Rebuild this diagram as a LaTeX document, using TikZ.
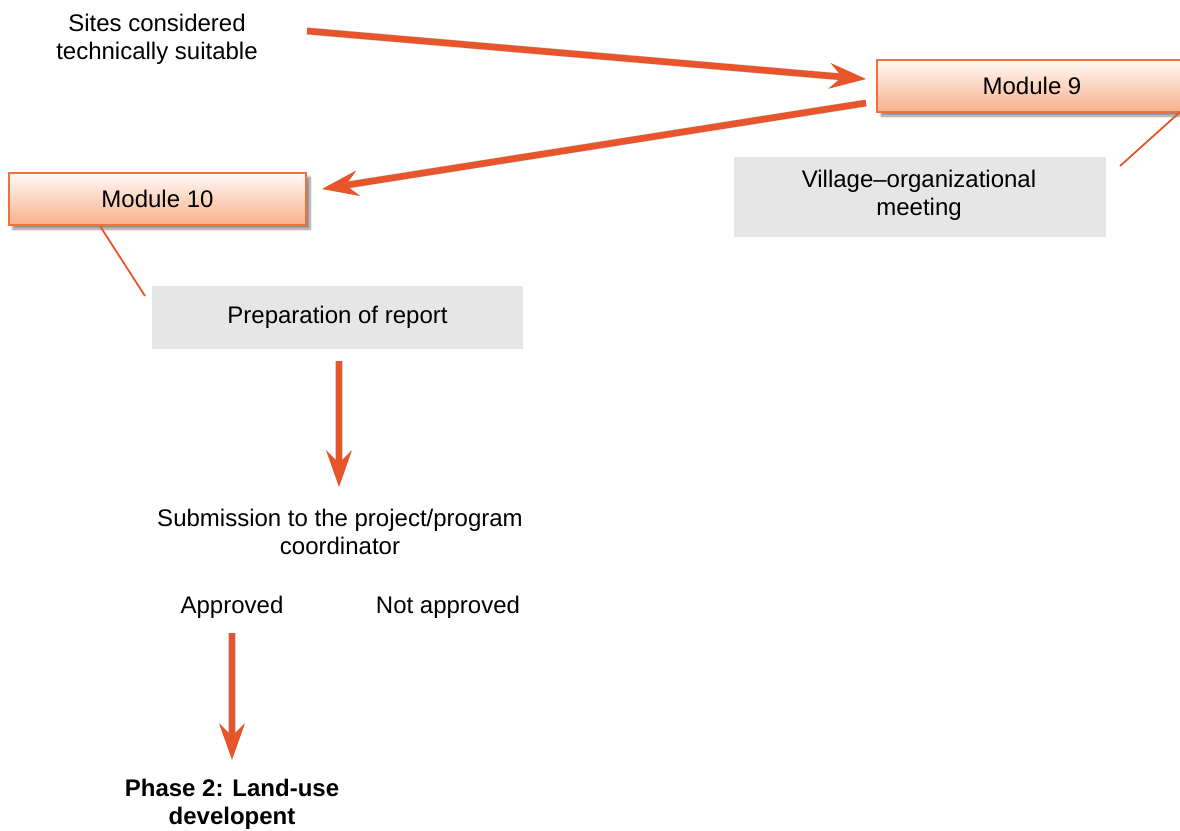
\documentclass[tikz,border=0pt]{standalone}
\usepackage{fontspec}
\setmainfont{Liberation Sans}
\usetikzlibrary{arrows.meta,shadows.blur}
\definecolor{org}{HTML}{E8552A}
\definecolor{modtop}{HTML}{FFF9F6}
\definecolor{modbot}{HTML}{F9B08A}
\definecolor{modborder}{HTML}{F07040}
\definecolor{graybox}{HTML}{E6E6E6}
\tikzset{
  txt/.style={font=\fontsize{24}{28}\selectfont, align=center, inner sep=0pt},
  modbox/.style={draw=modborder, line width=1.2pt, top color=modtop, bottom color=modbot,
    minimum height=52pt, inner sep=0pt, font=\fontsize{24}{28}\selectfont,
    blur shadow={shadow xshift=4pt, shadow yshift=-4pt, shadow blur steps=8, shadow opacity=45}},
  grbox/.style={fill=graybox, draw=none, inner sep=0pt, align=center, font=\fontsize{24}{28}\selectfont},
  bigarrow/.style={draw=org, line width=6.5pt, -{Stealth[length=36pt, width=25pt, inset=12pt]}},
  arrowshadow/.style={draw=black, opacity=0.18, line width=7.5pt, -{Stealth[length=36pt, width=25pt, inset=12pt]}},
  thinline/.style={draw=org, line width=1.8pt}
}
\begin{document}
\begin{tikzpicture}[x=1pt,y=-1pt]
\useasboundingbox (0,0) rectangle (1180,830);
\begin{scope}
\clip (0,0) rectangle (1180,830);
% nodes
\node[txt] (sites) at (157,39) {Sites considered\\technically suitable};
\node[modbox, minimum width=310pt] (m9) at (1032,86) {};
\node[txt] (m9t) at (1032,86) {Module 9};
\node[grbox, minimum width=372pt, minimum height=80pt] (village) at (920,197) {};
\node[txt] (villaget) at (919,195) {Village–organizational\\meeting};
\node[modbox, minimum width=297pt] (m10) at (157.5,199) {Module 10};
\node[grbox, minimum width=371pt, minimum height=63pt] (prep) at (337.5,317.5) {Preparation of report};
\node[txt] (sub) at (340,532) {Submission to the project/program\\coordinator};
\node[txt] (appr) at (232,607) {Approved};
\node[txt] (napp) at (448,607) {Not approved};
\node[txt, font=\fontsize{24}{28}\selectfont\bfseries] (phase) at (232,804) {Phase 2: Land-use\\developent};
% connector end points
\coordinate (a1s) at (307,31);
\coordinate (a1e) at (866,79);
\coordinate (a2s) at (866,103);
\coordinate (a2e) at (322,189);
\coordinate (a3s) at (339,361);
\coordinate (a3e) at (339,487);
\coordinate (a4s) at (232,633);
\coordinate (a4e) at (232,760);
\coordinate (l9a) at (1180,112);
\coordinate (l9b) at (1120,166);
\coordinate (l10a) at (100,226);
\coordinate (l10b) at (145,296);
% shadows of arrows
\begin{scope}[shift={(3,5)}]
\draw[arrowshadow] (a1s) -- (a1e);
\draw[arrowshadow] (a2s) -- (a2e);
\draw[arrowshadow] (a3s) -- (a3e);
\draw[arrowshadow] (a4s) -- (a4e);
\end{scope}
% arrows
\draw[bigarrow] (a1s) -- (a1e);
\draw[bigarrow] (a2s) -- (a2e);
\draw[bigarrow] (a3s) -- (a3e);
\draw[bigarrow] (a4s) -- (a4e);
% thin lines
\draw[thinline] (l9a) -- (l9b);
\draw[thinline] (l10a) -- (l10b);
\end{scope}
\end{tikzpicture}
\end{document}
